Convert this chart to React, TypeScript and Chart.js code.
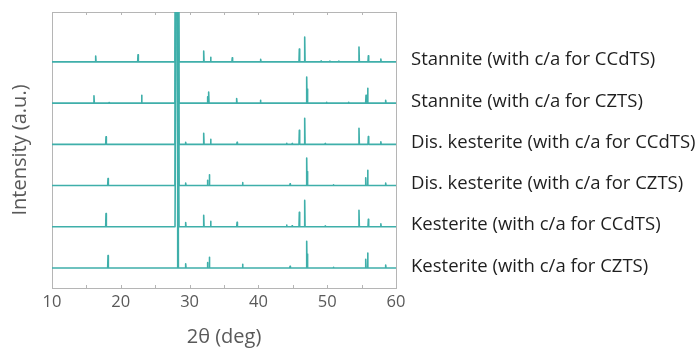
import React, { useEffect, useRef } from "react";
import { Chart, registerables } from "chart.js";

Chart.register(...registerables);

// Pattern names, top to bottom
const patternNames: string[] = [
  "Stannite (with c/a for CCdTS)",
  "Stannite (with c/a for CZTS)",
  "Dis. kesterite (with c/a for CCdTS)",
  "Dis. kesterite (with c/a for CZTS)",
  "Kesterite (with c/a for CCdTS)",
  "Kesterite (with c/a for CZTS)",
];

// Vertical offset of each pattern (a.u.)
const patternOffsets: number[] = [500, 400, 300, 200, 100, 0];

// Peaks: [2θ (deg), intensity (a.u.), half-width at base (deg)]
const stanniteCCdTS: [number, number, number][] = [
  [16.35, 14, 0.05], [22.5, 17, 0.05], [28.17, 1000, 0.29], [32.05, 26, 0.05], [33.06, 11, 0.05],
  [36.2, 10, 0.05], [40.33, 6, 0.05], [45.95, 31, 0.05], [46.73, 60, 0.05], [49.1, 2, 0.05],
  [50.4, 2, 0.05], [51.7, 2, 0.05], [54.62, 36, 0.05], [55.98, 15, 0.05], [57.8, 7, 0.05],
];
const stanniteCZTS: [number, number, number][] = [
  [16.1, 18, 0.05], [18.3, 1.5, 0.05], [23.03, 19, 0.05], [28.17, 1000, 0.29], [32.6, 15, 0.05],
  [32.77, 27, 0.05], [36.84, 11, 0.05], [40.3, 7, 0.05], [47.02, 63, 0.05], [47.15, 34, 0.05],
  [49.9, 2, 0.05], [53.1, 2, 0.05], [55.64, 19, 0.05], [55.88, 36, 0.05], [58.5, 7, 0.05],
];
const disKesteriteCCdTS: [number, number, number][] = [
  [17.85, 18, 0.05], [28.17, 1000, 0.29], [29.43, 5, 0.05], [32.05, 27, 0.05], [33.06, 12, 0.05],
  [36.9, 5, 0.05], [44.1, 2.4, 0.05], [44.9, 2, 0.05], [45.95, 34, 0.05], [46.73, 63, 0.05],
  [49.7, 2, 0.05], [54.62, 39, 0.05], [55.98, 19, 0.05], [57.8, 6, 0.05],
];
const disKesteriteCZTS: [number, number, number][] = [
  [18.14, 17, 0.05], [28.17, 1000, 0.29], [29.43, 6, 0.05], [32.6, 13, 0.05], [32.87, 26, 0.05],
  [37.7, 7, 0.05], [44.6, 4, 0.05], [47.02, 67, 0.05], [47.15, 34, 0.05], [50.9, 2, 0.05],
  [55.6, 19, 0.05], [55.88, 37, 0.05], [58.5, 6, 0.05],
];
const kesteriteCCdTS: [number, number, number][] = [
  [17.85, 32, 0.05], [28.17, 1000, 0.29], [29.43, 10, 0.05], [32.05, 28, 0.05], [33.06, 13, 0.05],
  [36.9, 11, 0.05], [44.1, 4, 0.05], [44.9, 2.4, 0.05], [45.95, 35, 0.05], [46.73, 64, 0.05],
  [49.7, 2, 0.05], [54.62, 40, 0.05], [55.98, 18, 0.05], [57.8, 7, 0.05],
];
const kesteriteCZTS: [number, number, number][] = [
  [18.14, 30, 0.05], [28.27, 1000, 0.1], [29.43, 10, 0.05], [32.6, 13, 0.05], [32.87, 26, 0.05],
  [37.7, 9, 0.05], [44.6, 4, 0.05], [47.02, 65, 0.05], [47.15, 34, 0.05], [50.9, 2, 0.05],
  [55.6, 21, 0.05], [55.88, 36, 0.05], [58.5, 7, 0.05],
];

const patterns: [number, number, number][][] = [
  stanniteCCdTS,
  stanniteCZTS,
  disKesteriteCCdTS,
  disKesteriteCZTS,
  kesteriteCCdTS,
  kesteriteCZTS,
];

const xMin = 10;
const xMax = 60;
const xTickStep = 10;
const xMinorStep = 5;

const TEAL = "#3fafaa";
const GREY = "#595959";
const FONT = "'Open Sans', 'Noto Sans', sans-serif";

function buildLine(peaks: [number, number, number][], offset: number) {
  const pts: { x: number; y: number }[] = [{ x: xMin, y: offset }];
  const sorted = [...peaks].sort((a, b) => a[0] - b[0]);
  for (const [pos, h, hw] of sorted) {
    pts.push({ x: pos - hw, y: offset });
    pts.push({ x: pos, y: offset + h });
    pts.push({ x: pos + hw, y: offset });
  }
  pts.push({ x: xMax, y: offset });
  return pts;
}

const framePlugin = {
  id: "frameAndLabels",
  beforeDatasetsDraw(chart: any) {
    const { ctx, chartArea } = chart;
    const xs = chart.scales.x;
    ctx.save();
    ctx.strokeStyle = "#b5b5b5";
    ctx.lineWidth = 1;
    ctx.strokeRect(
      Math.round(chartArea.left) + 0.5,
      Math.round(chartArea.top) + 0.5,
      Math.round(chartArea.right - chartArea.left),
      Math.round(chartArea.bottom - chartArea.top)
    );
    ctx.beginPath();
    for (let v = xMin + xMinorStep; v < xMax; v += xMinorStep) {
      const px = Math.round(xs.getPixelForValue(v)) + 0.5;
      ctx.moveTo(px, chartArea.bottom);
      ctx.lineTo(px, chartArea.bottom - 3);
      ctx.moveTo(px, chartArea.top);
      ctx.lineTo(px, chartArea.top + 3);
    }
    ctx.stroke();
    ctx.restore();
  },
  afterDraw(chart: any) {
    const { ctx, chartArea } = chart;
    const ys = chart.scales.y;
    ctx.save();
    ctx.fillStyle = "#1f1f1f";
    ctx.font = `18.5px ${FONT}`;
    ctx.textBaseline = "alphabetic";
    ctx.textAlign = "left";
    patternNames.forEach((name, i) => {
      const y = ys.getPixelForValue(patternOffsets[i]) + 3.5;
      ctx.fillText(name, chartArea.right + 15, y);
    });
    ctx.restore();
  },
};

export default function App() {
  const canvasRef = useRef<HTMLCanvasElement | null>(null);

  useEffect(() => {
    const canvas = canvasRef.current;
    if (!canvas) return;
    const datasets = patterns.map((peaks, i) => ({
      label: patternNames[i],
      data: buildLine(peaks, patternOffsets[i]),
      borderColor: TEAL,
      backgroundColor: TEAL,
      borderWidth: 1.6,
      borderJoinStyle: "round",
      pointRadius: 0,
      tension: 0,
      fill: false,
    }));
    const chart = new Chart(canvas, {
      type: "line",
      data: { datasets },
      options: {
        responsive: false,
        animation: false,
        layout: { padding: { left: 0, top: 12, right: 304, bottom: 0 } },
        plugins: { legend: { display: false }, tooltip: { enabled: false } },
        scales: {
          x: {
            type: "linear",
            min: xMin,
            max: xMax,
            grid: { display: false, drawTicks: false },
            border: { display: false },
            ticks: {
              stepSize: xTickStep,
              color: GREY,
              font: { family: FONT, size: 16.5 },
              padding: 4,
            },
            title: {
              display: true,
              text: "2θ (deg)",
              color: GREY,
              font: { family: FONT, size: 20 },
              padding: { top: 0, bottom: 0 },
            },
            afterFit(s: any) {
              s.height = 61;
            },
          },
          y: {
            type: "linear",
            min: -48.5,
            max: 621,
            grid: { display: false, drawTicks: false },
            border: { display: false },
            ticks: { display: false },
            title: {
              display: true,
              text: "Intensity (a.u.)",
              color: GREY,
              font: { family: FONT, size: 20 },
              padding: { top: 8, bottom: 0 },
            },
            afterFit(s: any) {
              s.width = 52;
            },
          },
        },
      },
      plugins: [framePlugin],
    } as any);
    return () => chart.destroy();
  }, []);

  return (
    <div style={{ position: "fixed", left: 0, top: 0, width: 700, height: 349, background: "#fff" }}>
      <canvas ref={canvasRef} width={700} height={349} style={{ width: 700, height: 349 }} />
    </div>
  );
}
